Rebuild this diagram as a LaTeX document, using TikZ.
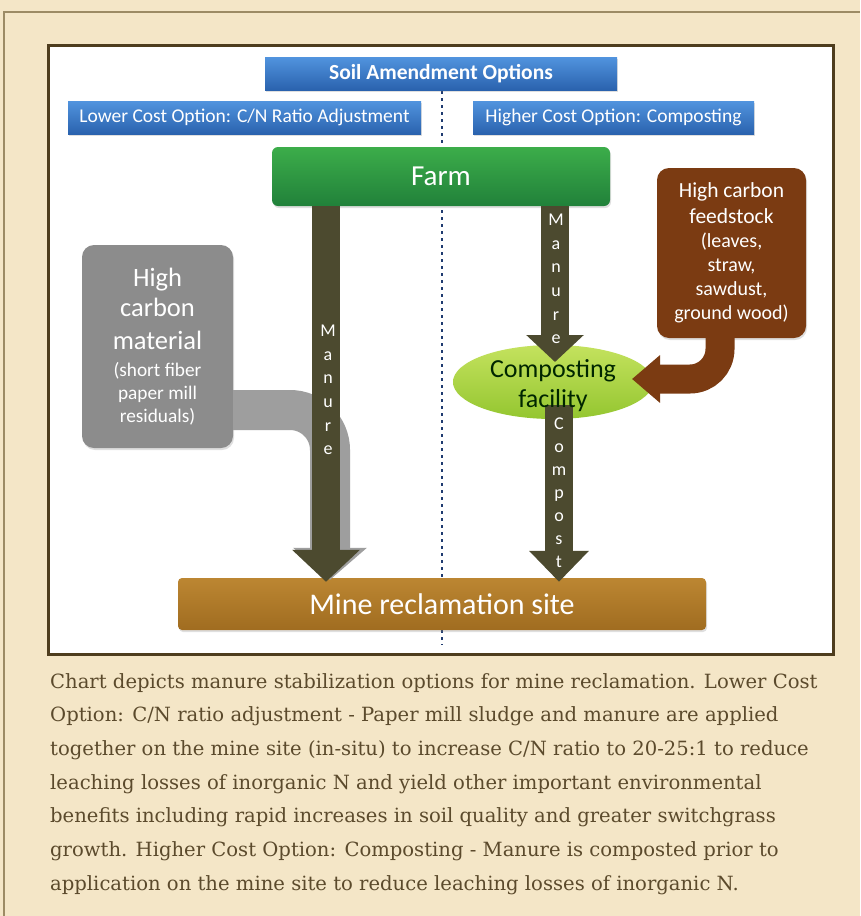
\documentclass[tikz,border=0pt]{standalone}
\usepackage{fontspec}
\setmainfont{DejaVu Serif}
\newfontfamily\chartfont{Carlito}
\usetikzlibrary{arrows.meta,shadows}

\definecolor{cream}{HTML}{F4E6C7}
\definecolor{paneledge}{HTML}{9C8B65}
\definecolor{chartedge}{HTML}{4E3D1E}
\definecolor{blueT}{HTML}{5194DE}
\definecolor{blueB}{HTML}{2A62AE}
\definecolor{farmT}{HTML}{3CAD4A}
\definecolor{farmB}{HTML}{21813A}
\definecolor{feedbrown}{HTML}{7B3B12}
\definecolor{greybox}{HTML}{8C8C8C}
\definecolor{greyband}{HTML}{9E9E9E}
\definecolor{compT}{HTML}{C4E25E}
\definecolor{compB}{HTML}{94C630}
\definecolor{siteT}{HTML}{BC8632}
\definecolor{siteB}{HTML}{A06C20}
\definecolor{arrowc}{HTML}{4C4A2F}
\definecolor{dotblue}{HTML}{1F3B70}
\definecolor{captext}{HTML}{5B4A2C}

\begin{document}
\begin{tikzpicture}[x=1pt, y=-1pt,
  bluebox/.style={top color=blueT, bottom color=blueB, text=white,
    minimum height=33pt, inner sep=0pt,
    font=\chartfont\fontsize{19.5}{22}\selectfont,
    drop shadow={opacity=0.25, shadow xshift=1pt, shadow yshift=-2pt}},
  roundbox/.style={rounded corners=12pt, align=center, text=white, inner sep=0pt,
    drop shadow={opacity=0.25, shadow xshift=1pt, shadow yshift=-2pt}},
  flow/.style={draw=arrowc, line width=28pt},
  letters/.style={align=center, text=white, inner sep=0pt,
    font=\chartfont\fontsize{18}{23.6}\selectfont},
  ]

  % Page background and frames
  \fill[cream] (0,0) rectangle (860,916);
  \useasboundingbox (0,0) rectangle (860,916);
  \draw[paneledge, line width=1.2pt] (4,916) -- (4,12) -- (860,12);
  \filldraw[fill=white, draw=chartedge, line width=3pt] (48,45) rectangle (833,654);

  % Divider between the two options
  \draw[dotblue, line width=2.6pt, dash pattern=on 2.6pt off 4.4pt] (442,91) -- (442,645);

  % Header boxes
  \node[bluebox, minimum width=352pt, font=\chartfont\bfseries\fontsize{21.5}{22}\selectfont]
    (opts) at (441,73.5) {Soil Amendment Options};
  \node[bluebox, minimum width=353pt] (lower) at (244.5,117.5)
    {Lower Cost Option: C/N Ratio Adjustment};
  \node[bluebox, minimum width=281pt] (higher) at (613.5,117.5)
    {Higher Cost Option: Composting};

  % Sources
  \node[roundbox, top color=farmT, bottom color=farmB, rounded corners=6pt,
    minimum width=338pt, minimum height=59pt,
    font=\chartfont\fontsize{29}{30}\selectfont] (farm) at (441,176.5) {Farm};
  \node[roundbox, fill=feedbrown, minimum width=149pt, minimum height=170pt,
    font=\chartfont\fontsize{20}{24}\selectfont] (feed) at (731.5,253)
    {{\fontsize{21.5}{26}\selectfont High carbon}\\[2pt]{\fontsize{21.5}{25}\selectfont feedstock}\\(leaves,\\straw,\\sawdust,\\ground wood)};
  \node[roundbox, fill=greybox, minimum width=151pt, minimum height=203pt,
    font=\chartfont\fontsize{19.3}{23}\selectfont] (hcm) at (157.5,346.5)
    {{\fontsize{26.5}{30}\selectfont High}\\[7pt]{\fontsize{26.5}{30}\selectfont carbon}\\[10pt]{\fontsize{26.5}{30}\selectfont material}\\[4pt](short fiber\\paper mill\\residuals)};

  % Composting facility
  \coordinate (cfc) at (553,382);
  \shade[top color=compT, bottom color=compB] (cfc) ellipse (100 and 37);

  % Destination
  \node[roundbox, top color=siteT, bottom color=siteB, rounded corners=4pt,
    minimum width=528pt, minimum height=52pt,
    font=\chartfont\fontsize{30}{32}\selectfont] (site) at (442,604) {Mine reclamation site};

  % Flows to the mine site
  \coordinate (lcol) at (326,0);
  \coordinate (rcol) at (559,0);
  \draw[draw=greyband, line width=40pt, rounded corners=40pt,
    -{Triangle[length=32pt, width=72pt]}]
    (hcm.east |- 0,410) -| ([xshift=4pt,yshift=-2pt]site.north -| lcol);
  \draw[flow, -{Triangle[length=32pt, width=66pt]}]
    (farm.south -| lcol) -- ([yshift=-4pt]site.north -| lcol);
  \draw[flow, -{Triangle[length=31pt, width=58pt]}]
    (rcol |- 0,405) -- ([yshift=-4pt]site.north -| rcol);

  % Flows into the composting facility
  \draw[flow, -{Triangle[length=27pt, width=56pt]}]
    ([xshift=114pt]farm.south) -- (555,362);
  \draw[draw=feedbrown, line width=29pt, rounded corners=30pt,
    -{Triangle[length=28pt, width=46pt]}]
    (feed.south -| 720,0) |- (632,379);

  \node[align=center, text=black!85!green, inner sep=0pt,
    font=\chartfont\fontsize{26}{30}\selectfont] (cf) at ([yshift=-4pt]cfc) {Composting\\facility};

  % Flow labels
  \node[letters] (lmanure) at (328,390) {M\\a\\n\\u\\r\\e};
  \node[letters] (rmanure) at (556,279) {M\\a\\n\\u\\r\\e};
  \node[letters, font=\chartfont\fontsize{18}{23}\selectfont] (compost) at (559,493)
    {C\\o\\m\\p\\o\\s\\t};

  % Caption
  \node[anchor=north west, align=left, inner sep=0pt, text=captext,
    font=\fontsize{19.6}{33.7}\selectfont] (caption) at (50,673)
    {Chart depicts manure stabilization options for mine reclamation. Lower Cost\\
     Option: C/N ratio adjustment - Paper mill sludge and manure are applied\\
     together on the mine site (in-situ) to increase C/N ratio to 20-25:1 to reduce\\
     leaching losses of inorganic N and yield other important environmental\\
     benefits including rapid increases in soil quality and greater switchgrass\\
     growth. Higher Cost Option: Composting - Manure is composted prior to\\
     application on the mine site to reduce leaching losses of inorganic N.};

\end{tikzpicture}
\end{document}
